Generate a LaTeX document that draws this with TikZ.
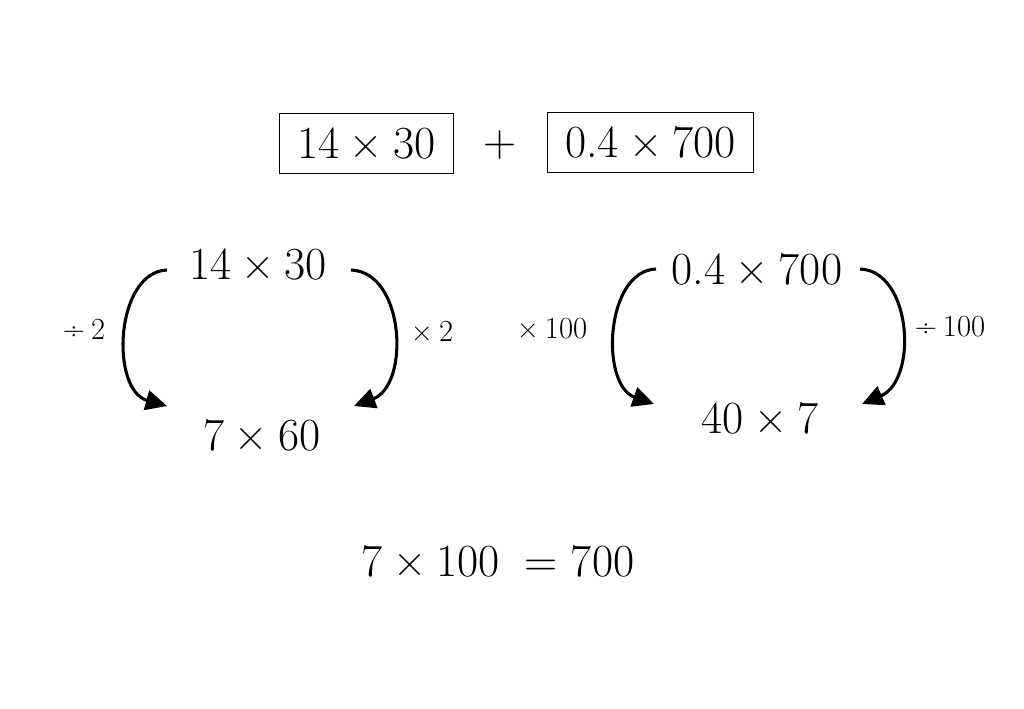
\documentclass[tikz,border=0pt]{standalone}
\usepackage{fontspec}
\usetikzlibrary{arrows.meta}
\newcommand{\tms}{\hspace{0.22em}×\hspace{0.22em}}
\begin{document}
\begin{tikzpicture}[x=0.75pt,y=-0.75pt,
  big/.style={inner sep=0pt,font=\fontsize{34.5}{40}\selectfont},
  lbl/.style={inner sep=0pt,font=\fontsize{23}{27}\selectfont},
  boxed/.style={big,draw,line width=0.6pt,minimum height=45pt},
  arr/.style={line width=2.3pt,-{Triangle[length=16pt,width=15pt]}}]
\useasboundingbox (0,0) rectangle (1024,709);
% top row
\node[boxed,minimum width=131pt] (b1) at (366.5,143) {14\tms30};
\node[big] (plus) at (500,145) {+};
\node[boxed,minimum width=155pt] (b2) at (650.5,142) {0.4\tms700};
% left group
\node[big] (t1) at (258,264) {14\tms30};
\node[big] (r1) at (262,435) {7\tms60};
\node[lbl] (l1) at (84,329) {÷\hspace{0.2em}2};
\node[lbl] (l2) at (432,331) {×\hspace{0.2em}2};
% right group
\node[big] (t2) at (757,269) {0.4\tms700};
\node[big] (r2) at (760,418) {40\tms7};
\node[lbl] (l3) at (552,329) {×\hspace{0.2em}100};
\node[lbl] (l4) at (950,327) {÷\hspace{0.2em}100};
% result
\node[big] (res) at (498,561) {7\tms100\hspace{0.55em}=\hspace{0.28em}700};
% arrow endpoints
\coordinate (a1s) at (167,270);
\coordinate (a1e) at (167,406);
\coordinate (a2s) at (351,270);
\coordinate (a2e) at (354,406);
\coordinate (a3s) at (656,269);
\coordinate (a3e) at (654,404);
\coordinate (a4s) at (860,269);
\coordinate (a4e) at (862,404);
\draw[arr] (a1s) .. controls (115,272) and (110,390) .. (a1e);
\draw[arr] (a2s) .. controls (405,272) and (410,385) .. (a2e);
\draw[arr] (a3s) .. controls (605,271) and (600,385) .. (a3e);
\draw[arr] (a4s) .. controls (912,271) and (918,380) .. (a4e);
\end{tikzpicture}
\end{document}
